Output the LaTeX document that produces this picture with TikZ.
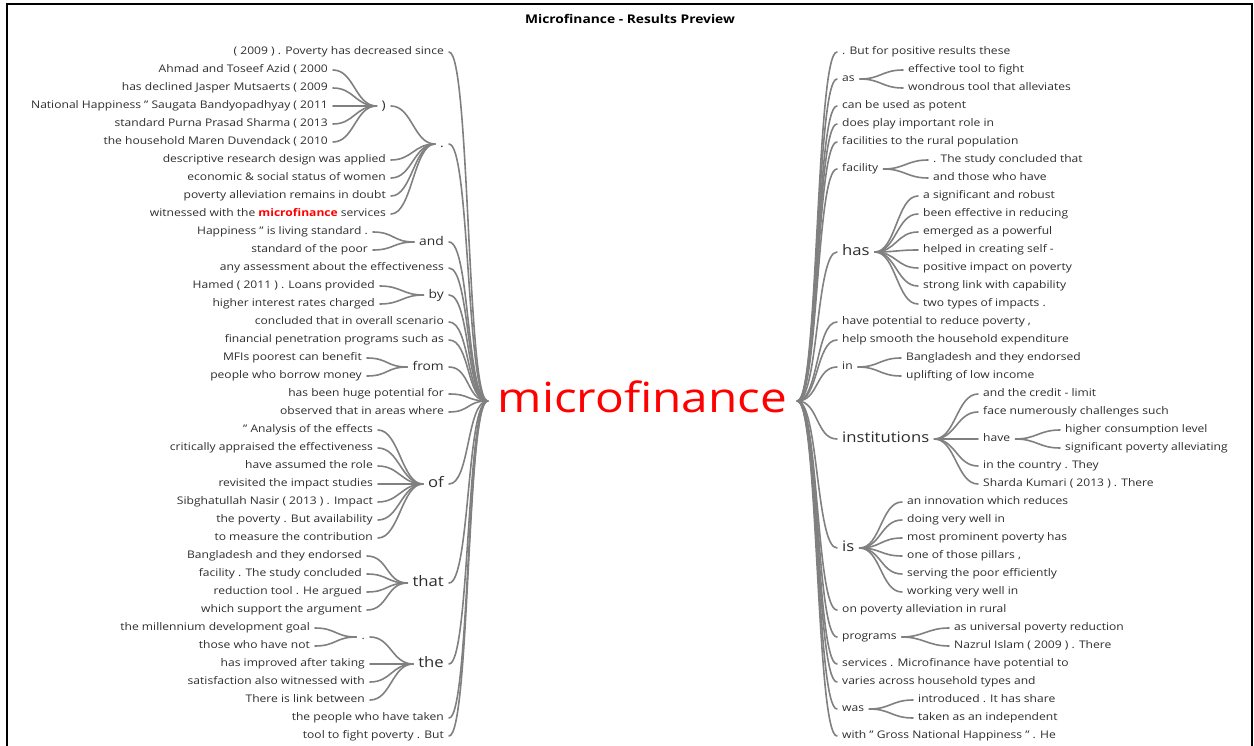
\documentclass[tikz,border=0pt]{standalone}
\usepackage{fontspec}
\setmainfont{Open Sans}[FakeStretch=1.15]
\usetikzlibrary{calc}
\definecolor{edgegray}{RGB}{128,128,128}
\definecolor{txt}{RGB}{45,45,45}
\definecolor{rootred}{RGB}{255,0,0}
\tikzset{
  wt/.style={inner xsep=5pt, inner ysep=0pt, text depth=0pt, text=txt},
  leaf/.style={wt, font=\fontsize{10.5}{12}\selectfont, text height=5.6pt},
  mid/.style={wt, font=\fontsize{12}{14}\selectfont, text height=6.4pt},
  big/.style={wt, font=\fontsize{14.5}{17}\selectfont, text height=7.8pt},
  lft/.style={anchor=east},
  rgt/.style={anchor=west},
  edge/.style={draw=edgegray, line width=1.6pt, line cap=round},
  br/.style={to path={.. controls +(21pt,0pt) and +(-21pt,0pt) .. (\tikztotarget)}},
}
\begin{document}
\begin{tikzpicture}[x=1pt,y=-1pt]
\useasboundingbox (0,0) rectangle (1254,746);
\draw[line width=1.5pt] (7,746) -- (7,4) -- (1252,4) -- (1252,746);
\node[font=\bfseries\fontsize{12}{14}\selectfont, text height=7pt, text depth=0pt, inner ysep=0pt] (title) at (630,20) {Microfinance - Results Preview};
\begin{scope}[yshift=-2pt]
\node[inner xsep=10pt, inner ysep=0pt, text height=22pt, text depth=0pt, text=rootred, font=\fontsize{41.5}{46}\selectfont] (root) at (642.5,399) {microfinance};

% ---------------- left side ----------------
\node[leaf,lft] (l1) at (449,50) {( 2009 ) . Poverty has decreased since};
\node[mid,lft] (ldot) at (449,142) {.};
\node[mid,lft] (lpar) at (391,104) {)};
\node[leaf,lft] (lpar1) at (333,68) {Ahmad and Toseef Azid ( 2000};
\node[leaf,lft] (lpar2) at (333,86) {has declined Jasper Mutsaerts ( 2009};
\node[leaf,lft] (lpar3) at (333,104) {National Happiness " Saugata Bandyopadhyay ( 2011};
\node[leaf,lft] (lpar4) at (333,122) {standard Purna Prasad Sharma ( 2013};
\node[leaf,lft] (lpar5) at (333,140) {the household Maren Duvendack ( 2010};
\node[leaf,lft] (ldot2) at (391,158) {descriptive research design was applied};
\node[leaf,lft] (ldot3) at (391,176) {economic \& social status of women};
\node[leaf,lft] (ldot4) at (391,194) {poverty alleviation remains in doubt};
\node[leaf,lft] (ldot5) at (391,212) {witnessed with the \textcolor{rootred}{\bfseries microfinance} services};
\node[mid,lft] (land) at (449,240) {and};
\node[leaf,lft] (land1) at (373,230) {Happiness " is living standard .};
\node[leaf,lft] (land2) at (373,248) {standard of the poor};
\node[leaf,lft] (l3) at (449,266) {any assessment about the effectiveness};
\node[mid,lft] (lby) at (449,293) {by};
\node[leaf,lft] (lby1) at (380,284) {Hamed ( 2011 ) . Loans provided};
\node[leaf,lft] (lby2) at (380,302) {higher interest rates charged};
\node[leaf,lft] (l5) at (449,320) {concluded that in overall scenario};
\node[leaf,lft] (l6) at (449,338) {financial penetration programs such as};
\node[mid,lft] (lfrom) at (449,365) {from};
\node[leaf,lft] (lfrom1) at (367,356) {MFIs poorest can benefit};
\node[leaf,lft] (lfrom2) at (367,374) {people who borrow money};
\node[leaf,lft] (l8) at (449,392) {has been huge potential for};
\node[leaf,lft] (l9) at (449,410) {observed that in areas where};
\node[big,lft] (lof) at (449,482) {of};
\node[leaf,lft] (lof1) at (378,428) {" Analysis of the effects};
\node[leaf,lft] (lof2) at (378,446) {critically appraised the effectiveness};
\node[leaf,lft] (lof3) at (378,464) {have assumed the role};
\node[leaf,lft] (lof4) at (378,482) {revisited the impact studies};
\node[leaf,lft] (lof5) at (378,500) {Sibghatullah Nasir ( 2013 ) . Impact};
\node[leaf,lft] (lof6) at (378,518) {the poverty . But availability};
\node[leaf,lft] (lof7) at (378,536) {to measure the contribution};
\node[big,lft] (lthat) at (449,581) {that};
\node[leaf,lft] (lthat1) at (367,554) {Bangladesh and they endorsed};
\node[leaf,lft] (lthat2) at (367,572) {facility . The study concluded};
\node[leaf,lft] (lthat3) at (367,590) {reduction tool . He argued};
\node[leaf,lft] (lthat4) at (367,608) {which support the argument};
\node[big,lft] (lthe) at (449,662) {the};
\node[leaf,lft] (lthedot) at (370,635) {.};
\node[leaf,lft] (ltd1) at (315,626) {the millennium development goal};
\node[leaf,lft] (ltd2) at (315,644) {those who have not};
\node[leaf,lft] (lthe2) at (370,662) {has improved after taking};
\node[leaf,lft] (lthe3) at (370,680) {satisfaction also witnessed with};
\node[leaf,lft] (lthe4) at (370,698) {There is link between};
\node[leaf,lft] (l13) at (449,716) {the people who have taken};
\node[leaf,lft] (l14) at (449,734) {tool to fight poverty . But};

\foreach \n in {l1,ldot,land,l3,lby,l5,l6,lfrom,l8,l9,lof,lthat,lthe,l13,l14}
  \draw[edge] (\n.east) to[br] (root.west);
\foreach \n in {lpar1,lpar2,lpar3,lpar4,lpar5} \draw[edge] (\n.east) to[br] (lpar.west);
\foreach \n in {lpar,ldot2,ldot3,ldot4,ldot5} \draw[edge] (\n.east) to[br] (ldot.west);
\foreach \n in {land1,land2} \draw[edge] (\n.east) to[br] (land.west);
\foreach \n in {lby1,lby2} \draw[edge] (\n.east) to[br] (lby.west);
\foreach \n in {lfrom1,lfrom2} \draw[edge] (\n.east) to[br] (lfrom.west);
\foreach \n in {lof1,lof2,lof3,lof4,lof5,lof6,lof7} \draw[edge] (\n.east) to[br] (lof.west);
\foreach \n in {lthat1,lthat2,lthat3,lthat4} \draw[edge] (\n.east) to[br] (lthat.west);
\foreach \n in {ltd1,ltd2} \draw[edge] (\n.east) to[br] (lthedot.west);
\foreach \n in {lthedot,lthe2,lthe3,lthe4} \draw[edge] (\n.east) to[br] (lthe.west);

% ---------------- right side ----------------
\node[leaf,rgt] (r1) at (837,50) {. But for positive results these};
\node[leaf,rgt] (ras) at (837,77) {as};
\node[leaf,rgt] (ras1) at (903,68) {effective tool to fight};
\node[leaf,rgt] (ras2) at (903,86) {wondrous tool that alleviates};
\node[leaf,rgt] (r3) at (837,104) {can be used as potent};
\node[leaf,rgt] (r4) at (837,122) {does play important role in};
\node[leaf,rgt] (r5) at (837,140) {facilities to the rural population};
\node[leaf,rgt] (rfac) at (837,167) {facility};
\node[leaf,rgt] (rfac1) at (928,158) {. The study concluded that};
\node[leaf,rgt] (rfac2) at (928,176) {and those who have};
\node[big,rgt] (rhas) at (837,250) {has};
\node[leaf,rgt] (rhas1) at (918,194) {a significant and robust};
\node[leaf,rgt] (rhas2) at (918,212) {been effective in reducing};
\node[leaf,rgt] (rhas3) at (918,230) {emerged as a powerful};
\node[leaf,rgt] (rhas4) at (918,248) {helped in creating self -};
\node[leaf,rgt] (rhas5) at (918,266) {positive impact on poverty};
\node[leaf,rgt] (rhas6) at (918,284) {strong link with capability};
\node[leaf,rgt] (rhas7) at (918,302) {two types of impacts .};
\node[leaf,rgt] (r8) at (837,320) {have potential to reduce poverty ,};
\node[leaf,rgt] (r9) at (837,338) {help smooth the household expenditure};
\node[leaf,rgt] (rin) at (837,365) {in};
\node[leaf,rgt] (rin1) at (901,356) {Bangladesh and they endorsed};
\node[leaf,rgt] (rin2) at (901,374) {uplifting of low income};
\node[big,rgt] (rinst) at (837,437) {institutions};
\node[leaf,rgt] (rinst1) at (978,392) {and the credit - limit};
\node[leaf,rgt] (rinst2) at (978,410) {face numerously challenges such};
\node[leaf,rgt] (rhave) at (978,437) {have};
\node[leaf,rgt] (rhave1) at (1060,428) {higher consumption level};
\node[leaf,rgt] (rhave2) at (1060,446) {significant poverty alleviating};
\node[leaf,rgt] (rinst4) at (978,464) {in the country . They};
\node[leaf,rgt] (rinst5) at (978,482) {Sharda Kumari ( 2013 ) . There};
\node[big,rgt] (ris) at (837,546) {is};
\node[leaf,rgt] (ris1) at (902,500) {an innovation which reduces};
\node[leaf,rgt] (ris2) at (902,518) {doing very well in};
\node[leaf,rgt] (ris3) at (902,536) {most prominent poverty has};
\node[leaf,rgt] (ris4) at (902,554) {one of those pillars ,};
\node[leaf,rgt] (ris5) at (902,572) {serving the poor efficiently};
\node[leaf,rgt] (ris6) at (902,590) {working very well in};
\node[leaf,rgt] (r12) at (837,608) {on poverty alleviation in rural};
\node[leaf,rgt] (rprog) at (837,635) {programs};
\node[leaf,rgt] (rprog1) at (949,626) {as universal poverty reduction};
\node[leaf,rgt] (rprog2) at (949,644) {Nazrul Islam ( 2009 ) . There};
\node[leaf,rgt] (r14) at (837,662) {services . Microfinance have potential to};
\node[leaf,rgt] (r15) at (837,680) {varies across household types and};
\node[leaf,rgt] (rwas) at (837,707) {was};
\node[leaf,rgt] (rwas1) at (913,698) {introduced . It has share};
\node[leaf,rgt] (rwas2) at (913,716) {taken as an independent};
\node[leaf,rgt] (r17) at (837,734) {with " Gross National Happiness " . He};

\foreach \n in {r1,ras,r3,r4,r5,rfac,rhas,r8,r9,rin,rinst,ris,r12,rprog,r14,r15,rwas,r17}
  \draw[edge] (root.east) to[br] (\n.west);
\foreach \n in {ras1,ras2} \draw[edge] (ras.east) to[br] (\n.west);
\foreach \n in {rfac1,rfac2} \draw[edge] (rfac.east) to[br] (\n.west);
\foreach \n in {rhas1,rhas2,rhas3,rhas4,rhas5,rhas6,rhas7} \draw[edge] (rhas.east) to[br] (\n.west);
\foreach \n in {rin1,rin2} \draw[edge] (rin.east) to[br] (\n.west);
\foreach \n in {rinst1,rinst2,rhave,rinst4,rinst5} \draw[edge] (rinst.east) to[br] (\n.west);
\foreach \n in {rhave1,rhave2} \draw[edge] (rhave.east) to[br] (\n.west);
\foreach \n in {ris1,ris2,ris3,ris4,ris5,ris6} \draw[edge] (ris.east) to[br] (\n.west);
\foreach \n in {rprog1,rprog2} \draw[edge] (rprog.east) to[br] (\n.west);
\foreach \n in {rwas1,rwas2} \draw[edge] (rwas.east) to[br] (\n.west);
\end{scope}
\end{tikzpicture}
\end{document}
